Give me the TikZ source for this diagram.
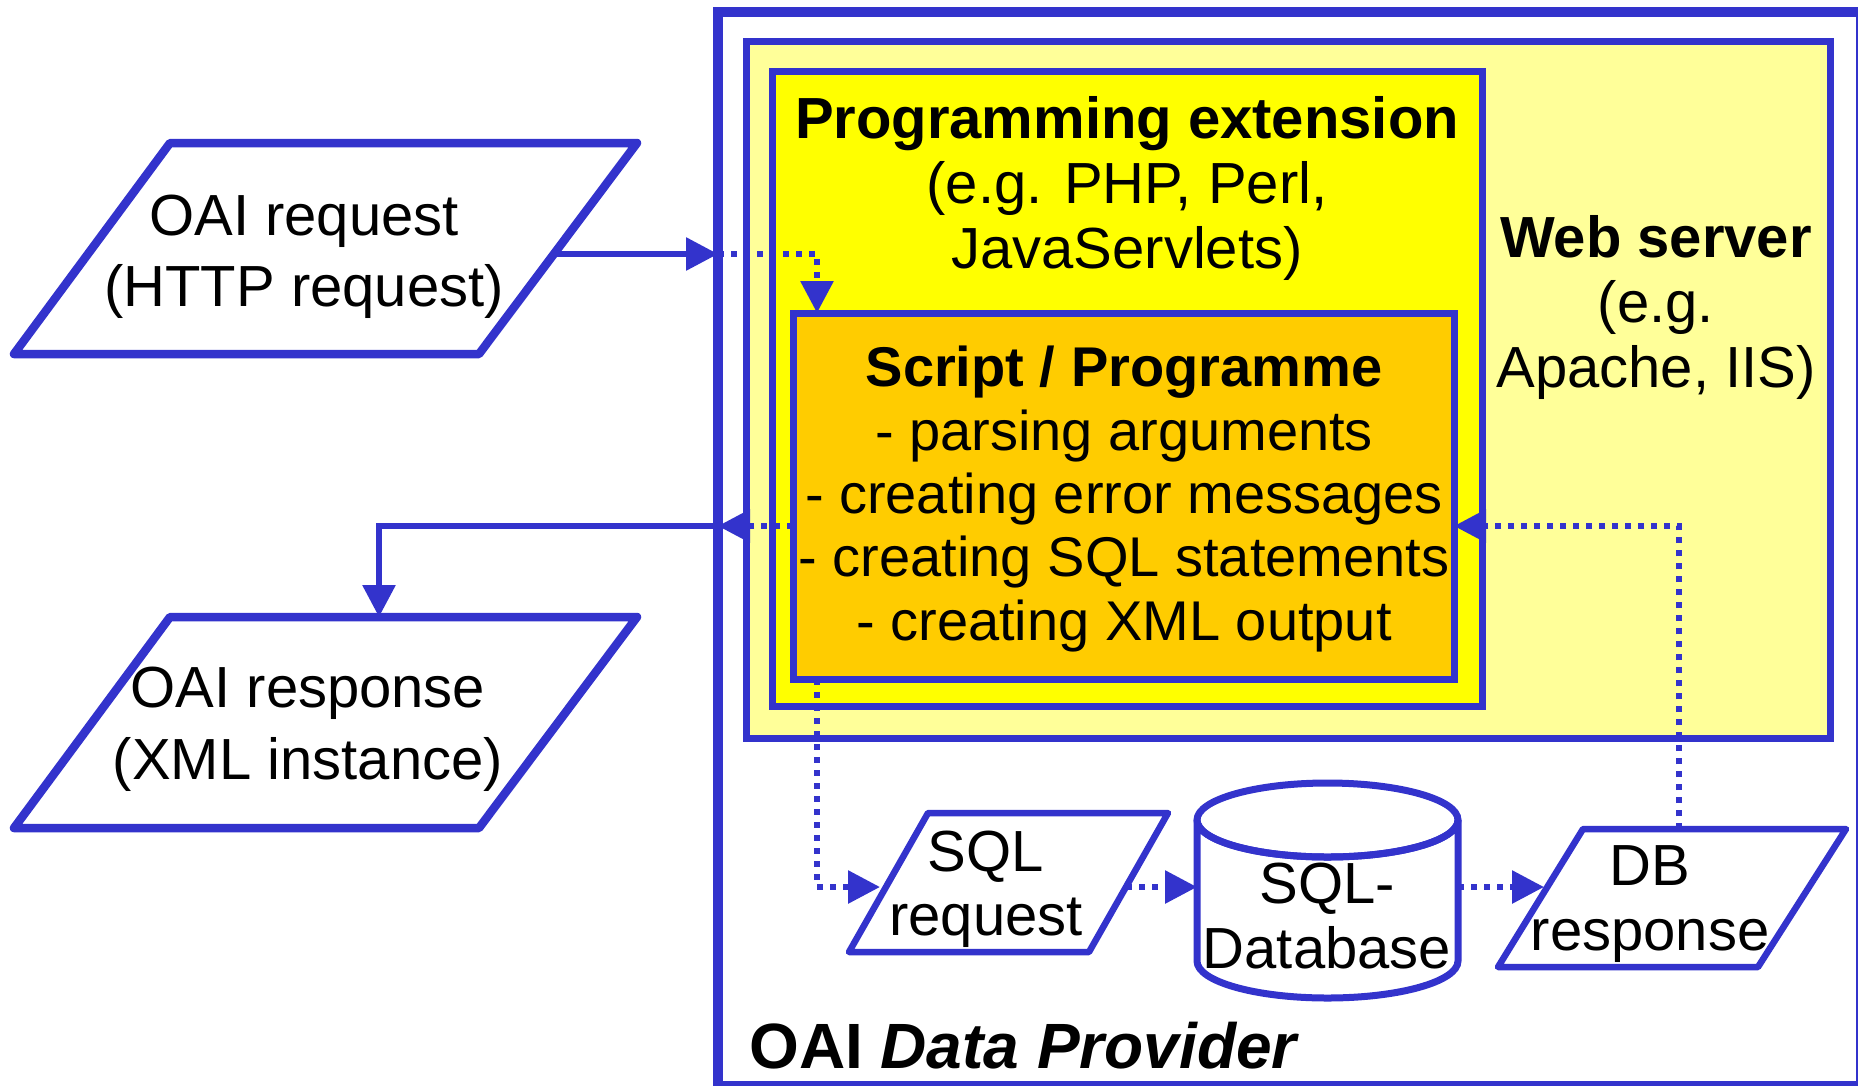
\documentclass[tikz,border=0pt]{standalone}
\usepackage{fontspec}
\setmainfont{Liberation Sans}
\usetikzlibrary{arrows.meta}
\definecolor{edge}{RGB}{51,51,204}
\definecolor{webfill}{RGB}{255,255,153}
\definecolor{extfill}{RGB}{255,255,0}
\definecolor{scrfill}{RGB}{255,204,0}
\begin{document}
\begin{tikzpicture}[x=1pt,y=-1pt,
  box/.style={draw=edge, line width=7pt, rectangle, outer sep=0pt, inner sep=0pt, anchor=north west},
  io/.style={draw=edge, fill=white, line width=8.5pt, line join=round},
  lbl/.style={font=\fontsize{58}{65}\selectfont, align=center, anchor=base, inner sep=0pt},
  flow/.style={draw=edge, line width=6pt, -{Triangle[length=32pt,width=32pt]}},
  dotflow/.style={flow, dash pattern=on 6pt off 7pt},
]
\useasboundingbox (0,0) rectangle (1858,1085);

% nested containers
\node[box, line width=10pt, fill=white, minimum width=1143pt, minimum height=1074pt] (dp) at (718,12) {};
\node[box, fill=webfill, minimum width=1084pt, minimum height=697pt] (web) at (746,41.5) {};
\node[box, fill=extfill, minimum width=710pt, minimum height=635pt] (ext) at (772,71) {};
\node[box, fill=scrfill, minimum width=661pt, minimum height=366pt] (scr) at (793,313) {};

% input / output parallelograms
\draw[io] (170,143) -- (637,143) -- (479,354) -- (14,354) -- cycle;
\draw[io] (170,617) -- (637,617) -- (479,828) -- (14,828) -- cycle;
\draw[io, line width=6.5pt] (928,813) -- (1168,813) -- (1089,952) -- (849,952) -- cycle;
\draw[io, line width=6.5pt] (1583,829) -- (1846,829) -- (1758,967) -- (1498,967) -- cycle;

% database cylinder
\draw[draw=edge, fill=white, line width=7pt]
  (1197,820) -- (1197,961) arc[start angle=180, end angle=0, x radius=130.5, y radius=37]
  -- (1458,820) arc[start angle=0, end angle=180, x radius=130.5, y radius=37] -- cycle;
\draw[draw=edge, line width=7pt] (1327.5,820) ellipse[x radius=130.5, y radius=37];

% labels (each placed at the baseline of its last line)
\node[lbl] (req) at (304,306) {OAI request\\[6pt](HTTP request)};
\node[lbl] (resp) at (308,779) {OAI response\\[7pt](XML instance)};
\node[lbl] (extl) at (1127,268) {\textbf{Programming extension}\\(e.g. PHP, Perl,\\JavaServlets)};
\node[lbl] (webl) at (1656,387) {\textbf{Web server}\\(e.g.\\Apache, IIS)};
\node[lbl, font=\fontsize{56}{63.3}\selectfont] (scrl) at (1124,640)
  {\textbf{Script / Programme}\\- parsing arguments\\- creating error messages\\- creating SQL statements\\- creating XML output};
\node[lbl, font=\fontsize{58}{64}\selectfont] (sqlr) at (986,935) {SQL\\request};
\node[lbl] (db) at (1327,968) {SQL-\\Database};
\node[lbl] (dbr) at (1650,950) {DB\\response};
\node[lbl, anchor=base west, font=\fontsize{64}{70}\selectfont\bfseries] (dpl) at (749,1068) {OAI \textit{Data Provider}};

% connector end points
\coordinate (reqout) at (554,254);
\coordinate (dpin) at (dp.west |- reqout);
\coordinate (scrin) at (817,313);
\coordinate (scrout) at (scr.west |- 0,526);
\coordinate (dpout) at (dp.west |- scrout);
\coordinate (respin) at (379,617);
\coordinate (scrdown) at (817,679);
\coordinate (sqlin) at (880,887);
\coordinate (sqlout) at (1126,887);
\coordinate (dbin) at (1197,887);
\coordinate (dbout) at (1458,887);
\coordinate (dbrin) at (1544,887);
\coordinate (dbrup) at (1679,829);
\coordinate (scrback) at (scr.east |- scrout);

% connectors
\draw[flow] (reqout) -- (dpin);
\draw[dotflow] (dpin) -| (scrin);
\draw[dotflow] (scrout) -- (dpout);
\draw[flow] (dpout) -| (respin);
\draw[dotflow] (scrdown) |- (sqlin);
\draw[dotflow] (sqlout) -- (dbin);
\draw[dotflow] (dbout) -- (dbrin);
\draw[dotflow] (dbrup) |- (scrback);
\end{tikzpicture}
\end{document}
